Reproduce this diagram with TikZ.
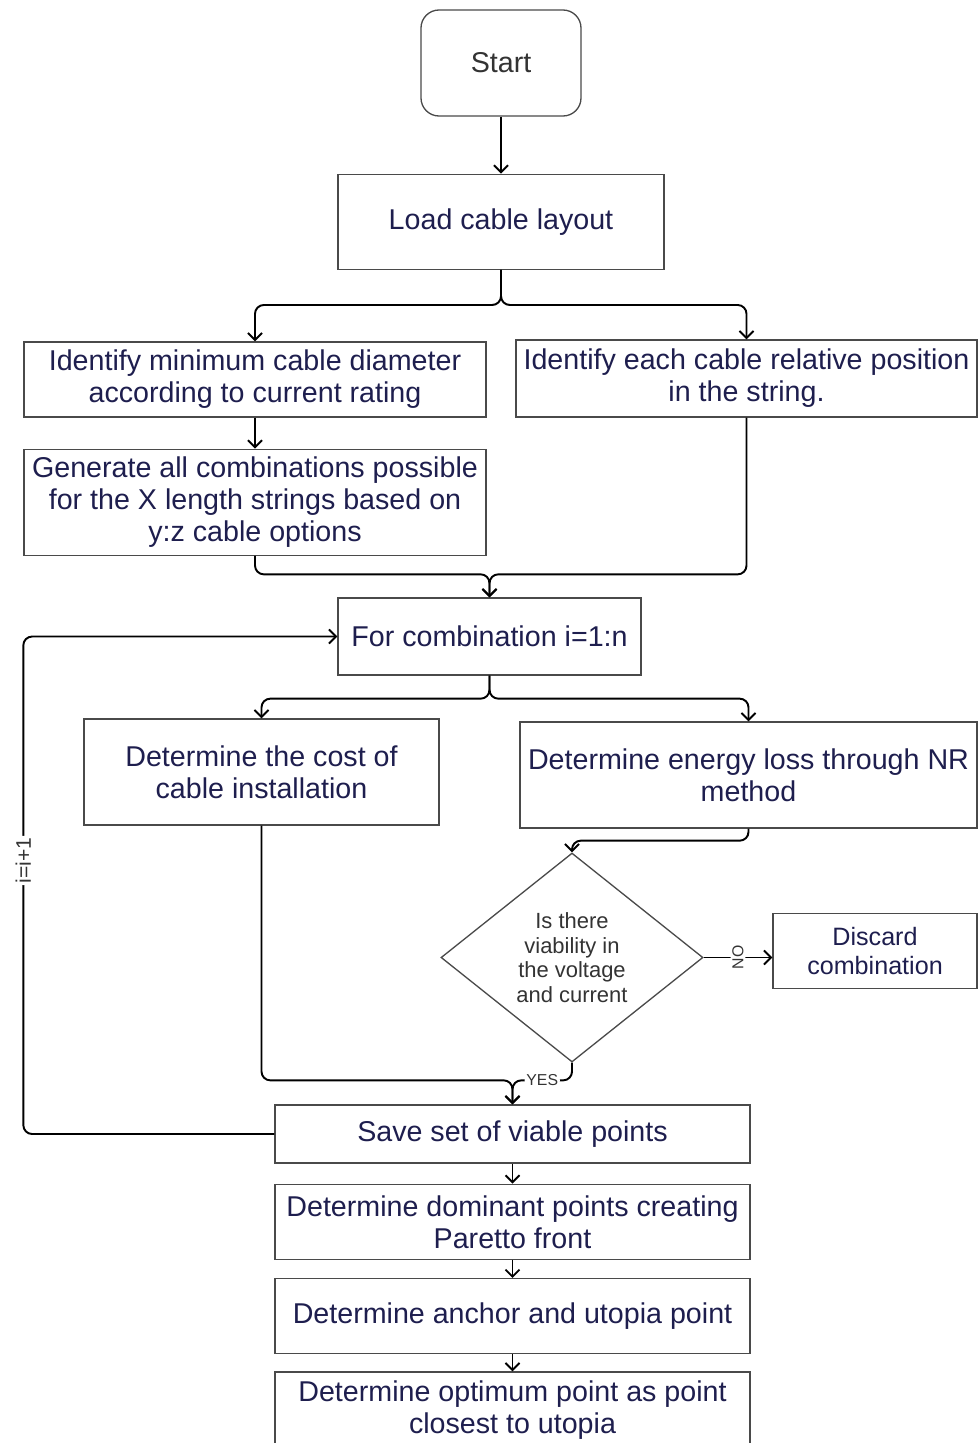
\documentclass[tikz,border=0pt]{standalone}
\usepackage{fontspec}
\setmainfont{Liberation Sans}
\usetikzlibrary{arrows.meta,positioning,shapes.geometric,calc}
\definecolor{inkblue}{HTML}{1E1E4E}
\definecolor{edgegray}{HTML}{4A4A4A}
\definecolor{textgray}{HTML}{333333}
\tikzset{
  startbox/.style={
    rectangle, rounded corners=0.36cm, draw=edgegray, line width=0.75pt,
    text=textgray, minimum width=3.2cm, minimum height=2.12cm,
    font=\fontsize{16.3}{18.2}\selectfont
  },
  procbox/.style={
    rectangle, draw=edgegray, line width=0.75pt, text=inkblue,
    minimum width=#1, align=center, inner sep=2pt,
    font=\fontsize{16.3}{18.2}\selectfont
  },
  procbox/.default=9.5cm,
  decisionbox/.style={
    diamond, draw=edgegray, line width=0.75pt, text=textgray,
    minimum width=5.24cm, minimum height=4.18cm, aspect=1.25,
    inner sep=0pt, align=center, font=\fontsize{12.5}{13.9}\selectfont
  },
  flowarrow/.style={
    -{Straight Barb[length=4pt,width=8pt]}, line width=1.1pt,
    rounded corners=5pt
  },
  flowlabel/.style={fill=white, inner sep=1pt, text=textgray,
    font=\fontsize{9}{10}\selectfont},
}
\begin{document}
\begin{tikzpicture}
\useasboundingbox (0,0) rectangle (19.56,-28.86);
\node[startbox] (start) at (10.02,-1.26) {Start};
\node[procbox=6.52cm, minimum height=1.9cm, below=1.14cm of start] (load) {Load cable layout};
\node[procbox=9.24cm, minimum height=1.5cm] (diam) at (5.1,-7.59) {Identify minimum cable diameter\\according to current rating};
\node[procbox=9.22cm, minimum height=1.54cm] (relpos) at (14.93,-7.57) {Identify each cable relative position\\in the string.};
\node[procbox=9.24cm, minimum height=2.12cm, below=0.62cm of diam] (combos) {Generate all combinations possible\\for the X length strings based on\\y:z cable options};
\node[procbox=6.06cm, minimum height=1.54cm] (loop) at (9.79,-12.73) {For combination i=1:n};
\node[procbox=7.1cm, minimum height=2.12cm] (cost) at (5.23,-15.44) {Determine the cost of\\cable installation};
\node[procbox=9.14cm, minimum height=2.12cm] (eloss) at (14.97,-15.5) {Determine energy loss through NR\\method};
\node[decisionbox] (viable) at (11.44,-19.15) {Is there\\viability in\\the voltage\\and current};
\node[procbox=4.08cm, minimum height=1.5cm, font=\fontsize{14.3}{16.4}\selectfont] (discard) at (17.5,-19.02) {Discard\\combination};
\node[procbox, minimum height=1.16cm] (save) at (10.25,-22.68) {Save set of viable points};
\node[procbox, minimum height=1.5cm, below=0.4cm of save] (pareto) {Determine dominant points creating\\Paretto front};
\node[procbox, minimum height=1.5cm, below=0.36cm of pareto] (anchor) {Determine anchor and utopia point};
\node[procbox, minimum height=1.54cm, below=0.34cm of anchor] (optimum) {Determine optimum point as point\\closest to utopia};
\coordinate (merge) at ($(loop.north)+(0,0.46)$);
\coordinate (gather) at ($(save.north)+(0,0.48)$);
\draw[flowarrow] (start) -- (load);
\draw[flowarrow] (load.south) -- ++(0,-0.7) -| (diam.north);
\draw[flowarrow] (load.south) -- ++(0,-0.7) -| (relpos.north);
\draw[flowarrow] (diam) -- (combos);
\draw[flowarrow] (combos.south) |- (merge) -- (loop.north);
\draw[flowarrow] (relpos.south) |- (merge) -- (loop.north);
\draw[flowarrow] (loop.south) -- ++(0,-0.46) -| (cost.north);
\draw[flowarrow] (loop.south) -- ++(0,-0.46) -| (eloss.north);
\draw[flowarrow] (eloss.south) -- ++(0,-0.24) -| (viable.north);
\draw[flowarrow] (viable.east) -- node[flowlabel, rotate=90] {NO} (viable.east -| discard.west);
\draw[flowarrow] (cost.south) |- (gather) -- (save.north);
\draw[flowarrow] (viable.south) |- node[flowlabel, pos=0.75] {YES} (gather) -- (save.north);
\draw[flowarrow] (save.west) -- ++(-5.02,0) |- node[flowlabel, rotate=90, pos=0.275, font=\fontsize{12}{13}\selectfont] {i=i+1} (loop.west);
\draw[flowarrow] (save) -- (pareto);
\draw[flowarrow] (pareto) -- (anchor);
\draw[flowarrow] (anchor) -- (optimum);
\end{tikzpicture}
\end{document}
